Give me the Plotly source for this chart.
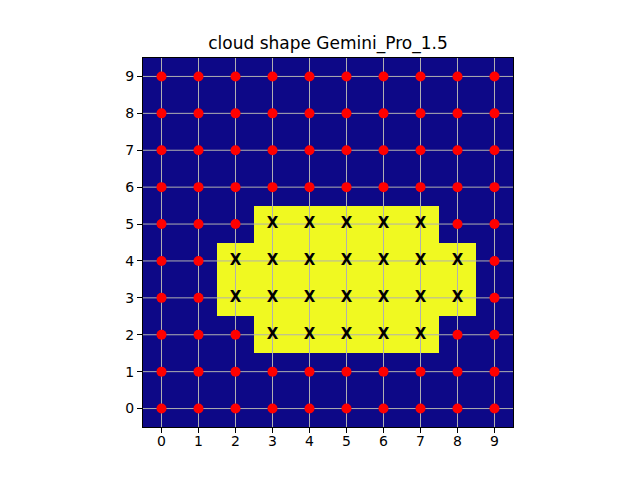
import numpy as np
import plotly.graph_objects as go

# cloud grid, row index = y (0 at bottom)
grid = [
    [0, 0, 0, 0, 0, 0, 0, 0, 0, 0],  # y=0
    [0, 0, 0, 0, 0, 0, 0, 0, 0, 0],  # y=1
    [0, 0, 0, 1, 1, 1, 1, 1, 0, 0],  # y=2
    [0, 0, 1, 1, 1, 1, 1, 1, 1, 0],  # y=3
    [0, 0, 1, 1, 1, 1, 1, 1, 1, 0],  # y=4
    [0, 0, 0, 1, 1, 1, 1, 1, 0, 0],  # y=5
    [0, 0, 0, 0, 0, 0, 0, 0, 0, 0],  # y=6
    [0, 0, 0, 0, 0, 0, 0, 0, 0, 0],  # y=7
    [0, 0, 0, 0, 0, 0, 0, 0, 0, 0],  # y=8
    [0, 0, 0, 0, 0, 0, 0, 0, 0, 0],  # y=9
]
ticks = list(range(10))
title = "cloud shape Gemini_Pro_1.5"

g = np.array(grid)
ys, xs = np.nonzero(g == 0)
yc, xc = np.nonzero(g == 1)

fig = go.Figure()
fig.add_trace(go.Heatmap(z=grid, x=ticks, y=ticks, colorscale="Plasma",
                         zmin=0, zmax=1, showscale=False, hoverinfo="skip"))

# grid lines drawn over the image but under the markers
gx, gy = [], []
for t in ticks:
    gx += [t, t, None]
    gy += [-0.5, 9.5, None]
    gx += [-0.5, 9.5, None]
    gy += [t, t, None]
fig.add_trace(go.Scatter(x=gx, y=gy, mode="lines",
                         line=dict(color="#b0b0b0", width=1), hoverinfo="skip"))

fig.add_trace(go.Scatter(x=xs, y=ys, mode="markers",
                         marker=dict(color="red", size=10, line=dict(width=0))))
fig.add_trace(go.Scatter(x=xc, y=yc, mode="text", text=["<b>X</b>"] * len(xc),
                         textfont=dict(color="black", size=15, family="DejaVu Sans")))

axis = dict(range=[-0.5, 9.5], tickvals=ticks, showgrid=False, zeroline=False,
            ticks="outside", ticklen=5, tickcolor="black", showline=True,
            linecolor="black", linewidth=1, mirror=True,
            tickfont=dict(size=14, color="black"))
fig.update_xaxes(**axis, ticklabelstandoff=-4)
fig.update_yaxes(**axis)

fig.update_layout(
    width=640, height=480, showlegend=False,
    margin=dict(l=135, r=135, t=50, b=61),
    paper_bgcolor="white", plot_bgcolor="white",
    font=dict(family="DejaVu Sans", color="black"),
    title=dict(text=title, x=0.5, xanchor="center", y=0.915, yanchor="bottom",
               font=dict(size=17, color="black")),
)

fig.write_html("out.html")
